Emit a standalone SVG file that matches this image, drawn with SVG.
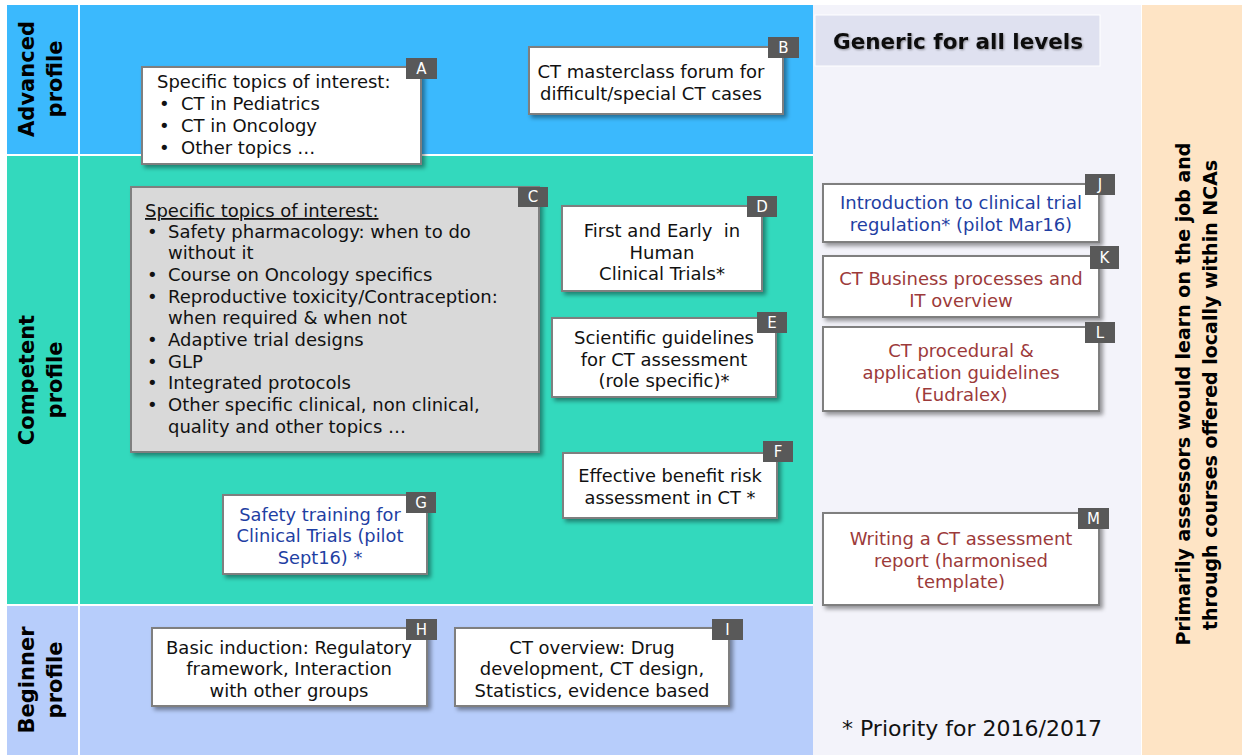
<svg xmlns="http://www.w3.org/2000/svg" width="1242" height="755" viewBox="0 0 1242 755">
<defs>
<filter id="sh" x="-10%" y="-10%" width="130%" height="130%">
<feDropShadow dx="3" dy="3" stdDeviation="2" flood-color="#000" flood-opacity="0.4"/>
</filter>
<filter id="tsh" x="-5%" y="-20%" width="110%" height="150%">
<feDropShadow dx="1" dy="1" stdDeviation="1" flood-color="#000" flood-opacity="0.35"/>
</filter>
</defs>
<style>
text{font-family:'DejaVu Sans','Verdana',sans-serif;font-size:18px;fill:#111;}
.box{fill:#fff;stroke:#7f7f7f;stroke-width:2;filter:url(#sh);}
.grey{fill:#d9d9d9;}
.tag{fill:#595959;}
.tagt{fill:#fff;font-size:15px;text-anchor:middle;}
.c{text-anchor:middle;}
.cond{font-family:'DejaVu Sans Condensed','DejaVu Sans',sans-serif;font-stretch:condensed;font-size:18px;}
.blue{fill:#1f3fa3;}
.red{fill:#9c3a3a;}
.lab{font-weight:bold;font-size:21px;text-anchor:middle;fill:#000;}
.side{font-weight:bold;font-size:19px;text-anchor:middle;fill:#000;}
</style>
<rect width="1242" height="755" fill="#fff"/>
<g id="background">
<rect x="7" y="5" width="806" height="149" fill="#3bb9fd"/>
<rect x="7" y="156" width="806" height="448" fill="#33d9bd"/>
<rect x="7" y="606" width="806" height="149" fill="#b7cdfb"/>
<rect x="78" y="5" width="2" height="750" fill="#fff"/>
<rect x="813" y="5" width="328" height="750" fill="#f3f3fa"/>
<rect x="1142" y="5" width="100" height="750" fill="#fee4c5"/>
</g>
<g id="labels">
<text class="lab" transform="translate(34,79) rotate(-90)">Advanced</text>
<text class="lab" transform="translate(62,79) rotate(-90)">profile</text>
<text class="lab" transform="translate(34,380) rotate(-90)">Competent</text>
<text class="lab" transform="translate(62,380) rotate(-90)">profile</text>
<text class="lab" transform="translate(34,680) rotate(-90)">Beginner</text>
<text class="lab" transform="translate(62,680) rotate(-90)">profile</text>
<text class="side" transform="translate(1190,394) rotate(-90)">Primarily assessors would learn on the job and</text>
<text class="side" transform="translate(1217,395) rotate(-90)">through courses offered locally within NCAs</text>
</g>
<g id="header">
<rect x="815" y="15" width="285" height="51" fill="#dfe1f0" stroke="#fff" stroke-width="1"/>
<text x="958" y="49" class="c" style="font-weight:bold;font-size:21.5px;filter:url(#tsh)">Generic for all levels</text>
</g>
<g id="nodeA">
<rect class="box" x="142" y="67" width="279" height="97"/>
<text x="157" y="88">Specific topics of interest:</text>
<text x="159" y="110">•</text><text x="181" y="110">CT in Pediatrics</text>
<text x="159" y="132">•</text><text x="181" y="132">CT in Oncology</text>
<text x="159" y="154">•</text><text x="181" y="154">Other topics …</text>
<rect class="tag" x="406" y="58" width="31" height="21"/><text class="tagt" x="421.5" y="74">A</text>
</g>
<g id="nodeB">
<rect class="box" x="529" y="47" width="254" height="67"/>
<text class="c" x="651" y="78">CT masterclass forum for</text>
<text class="c" x="651" y="100">difficult/special CT cases</text>
<rect class="tag" x="768" y="37" width="31" height="21"/><text class="tagt" x="783.5" y="53">B</text>
</g>
<g id="nodeC">
<rect class="box grey" x="131" y="187" width="408" height="265"/>
<text x="145" y="217" text-decoration="underline">Specific topics of interest:</text>
<text x="147" y="238">•</text><text x="168" y="238">Safety pharmacology: when to do</text>
<text x="168" y="259">without it</text>
<text x="147" y="281">•</text><text x="168" y="281">Course on Oncology specifics</text>
<text x="147" y="303">•</text><text x="168" y="303">Reproductive toxicity/Contraception:</text>
<text x="168" y="324">when required &amp; when not</text>
<text x="147" y="346">•</text><text x="168" y="346">Adaptive trial designs</text>
<text x="147" y="368">•</text><text x="168" y="368">GLP</text>
<text x="147" y="389">•</text><text x="168" y="389">Integrated protocols</text>
<text x="147" y="411">•</text><text x="168" y="411">Other specific clinical, non clinical,</text>
<text x="168" y="433">quality and other topics …</text>
<rect class="tag" x="518" y="187" width="30" height="20"/><text class="tagt" x="533" y="202">C</text>
</g>
<g id="nodeD">
<rect class="box" x="562" y="206" width="200" height="85"/>
<text class="c" x="662" y="237" style="white-space:pre">First and Early  in</text>
<text class="c" x="662" y="259">Human</text>
<text class="c" x="662" y="280">Clinical Trials*</text>
<rect class="tag" x="747" y="196" width="30" height="21"/><text class="tagt" x="762" y="212">D</text>
</g>
<g id="nodeE">
<rect class="box" x="552" y="318" width="224" height="79"/>
<text class="c" x="664" y="344">Scientific guidelines</text>
<text class="c" x="664" y="366">for CT assessment</text>
<text class="c" x="664" y="387">(role specific)*</text>
<rect class="tag" x="757" y="312" width="30" height="21"/><text class="tagt" x="772" y="328">E</text>
</g>
<g id="nodeF">
<rect class="box" x="563" y="453" width="214" height="65"/>
<text class="c cond" transform="translate(670,482) scale(1.1,1)">Effective benefit risk</text>
<text class="c cond" transform="translate(670,504) scale(1.1,1)">assessment in CT *</text>
<rect class="tag" x="763" y="441" width="30" height="21"/><text class="tagt" x="778" y="457">F</text>
</g>
<g id="nodeG">
<rect class="box" x="223" y="495" width="204" height="79"/>
<text class="c cond blue" transform="translate(320,521) scale(1.1,1)">Safety training for</text>
<text class="c cond blue" transform="translate(320,542) scale(1.1,1)">Clinical Trials (pilot</text>
<text class="c cond blue" transform="translate(320,564) scale(1.1,1)">Sept16) *</text>
<rect class="tag" x="406" y="492" width="30" height="21"/><text class="tagt" x="421" y="508">G</text>
</g>
<g id="nodeH">
<rect class="box" x="152" y="628" width="275" height="78"/>
<text class="c cond" transform="translate(289,654) scale(1.11,1)">Basic induction: Regulatory</text>
<text class="c cond" transform="translate(289,675) scale(1.11,1)">framework, Interaction</text>
<text class="c cond" transform="translate(289,697) scale(1.11,1)">with other groups</text>
<rect class="tag" x="406" y="619" width="31" height="21"/><text class="tagt" x="421.5" y="635">H</text>
</g>
<g id="nodeI">
<rect class="box" x="455" y="628" width="274" height="78"/>
<text class="c cond" transform="translate(592,654) scale(1.11,1)">CT overview: Drug</text>
<text class="c cond" transform="translate(592,675) scale(1.11,1)">development, CT design,</text>
<text class="c cond" transform="translate(592,697) scale(1.11,1)">Statistics, evidence based</text>
<rect class="tag" x="712" y="619" width="31" height="21"/><text class="tagt" x="727.5" y="635">I</text>
</g>
<g id="nodeJ">
<rect class="box" x="823" y="184" width="276" height="58"/>
<text class="c blue" x="961" y="209">Introduction to clinical trial</text>
<text class="c blue" x="961" y="231">regulation* (pilot Mar16)</text>
<rect class="tag" x="1085" y="174" width="30" height="21"/><text class="tagt" x="1100" y="190">J</text>
</g>
<g id="nodeK">
<rect class="box" x="823" y="256" width="276" height="61"/>
<text class="c red" x="961" y="285">CT Business processes and</text>
<text class="c red" x="961" y="307">IT overview</text>
<rect class="tag" x="1090" y="246" width="29" height="23"/><text class="tagt" x="1104.5" y="263">K</text>
</g>
<g id="nodeL">
<rect class="box" x="823" y="327" width="276" height="84"/>
<text class="c red" x="961" y="357">CT procedural &amp;</text>
<text class="c red" x="961" y="379">application guidelines</text>
<text class="c red" x="961" y="401">(Eudralex)</text>
<rect class="tag" x="1085" y="322" width="30" height="21"/><text class="tagt" x="1100" y="338">L</text>
</g>
<g id="nodeM">
<rect class="box" x="823" y="513" width="276" height="92"/>
<text class="c red" x="961" y="545">Writing a CT assessment</text>
<text class="c red" x="961" y="567">report (harmonised</text>
<text class="c red" x="961" y="588">template)</text>
<rect class="tag" x="1078" y="508" width="31" height="21"/><text class="tagt" x="1093.5" y="524">M</text>
</g>
<g id="footnote">
<text x="842" y="736" style="font-size:22px">* Priority for 2016/2017</text>
</g>
<g id="connectors"></g>
</svg>
